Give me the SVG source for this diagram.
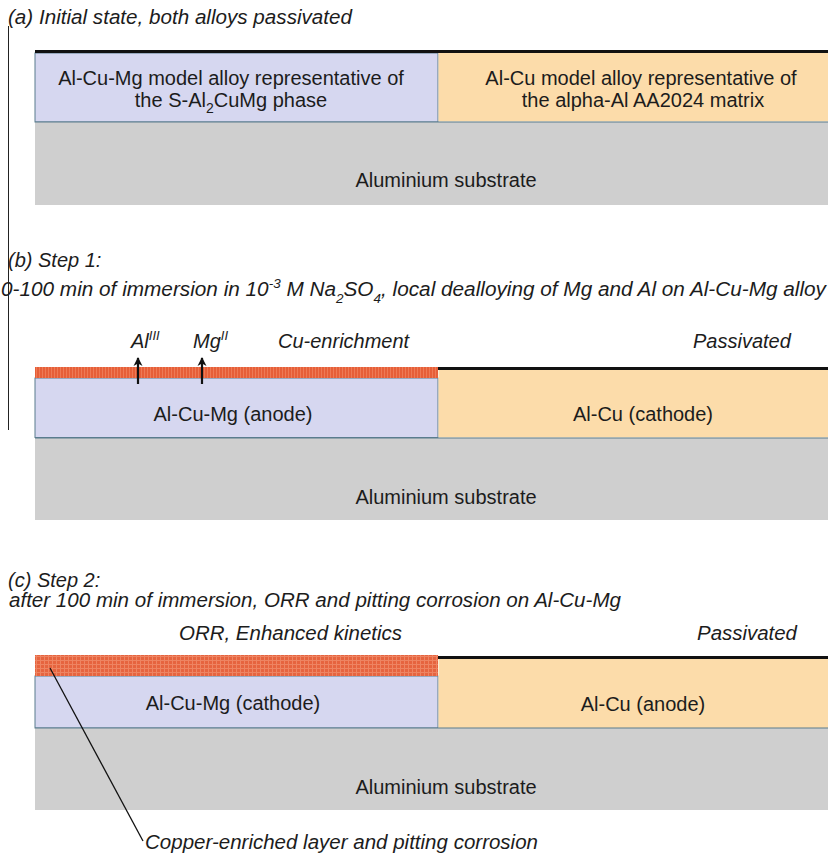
<svg xmlns="http://www.w3.org/2000/svg" width="828" height="854" viewBox="0 0 828 854">
<defs>
<pattern id="stripeB" width="3" height="12" patternUnits="userSpaceOnUse">
<rect width="3" height="12" fill="#e65f38"/>
<rect width="1" height="12" fill="#ee7a55"/>
</pattern>
<pattern id="gridC" width="4" height="4" patternUnits="userSpaceOnUse">
<rect width="4" height="4" fill="#e6643f"/>
<rect width="1" height="4" fill="#ee8462"/>
<rect width="4" height="1" fill="#ee8462"/>
</pattern>
<marker id="arr" markerWidth="12" markerHeight="12" refX="9" refY="6" orient="auto" markerUnits="userSpaceOnUse">
<path d="M1,1.5 L10,6 L1,10.5 L3.5,6 Z" fill="#111"/>
</marker>
</defs>
<style>
text{font-family:"Liberation Sans",Arial,sans-serif;fill:#1c1c1c}
.t{font-size:20px;font-style:italic}
.l{font-size:20px}
.i{font-size:20px;font-style:italic}
.blue{fill:#d6d7f0;stroke:#5a7c8e;stroke-width:1}
.or{fill:#fcdcaa}
.gray{fill:#cfcfcf}
.pass{stroke:#111;stroke-width:3}
.sep{stroke:#5a7c8e;stroke-width:1}
</style>
<rect width="828" height="854" fill="#fff"/>
<line x1="8.5" y1="26" x2="8.5" y2="430" stroke="#222" stroke-width="1"/>

<g id="panel-a">
<text class="t" x="8" y="24" textLength="344" lengthAdjust="spacingAndGlyphs">(a) Initial state, both alloys passivated</text>
<g id="a-alcumg">
<rect class="blue" x="35" y="53" width="403" height="69"/>
<text class="l" x="231" y="85" text-anchor="middle">Al-Cu-Mg model alloy representative of</text>
<text class="l" x="231" y="107" text-anchor="middle">the S-Al<tspan font-size="14" dy="6">2</tspan><tspan dy="-6">CuMg phase</tspan></text>
</g>
<g id="a-alcu">
<rect class="or" x="438.5" y="53" width="389.5" height="68.5"/>
<text class="l" x="641" y="85" text-anchor="middle">Al-Cu model alloy representative of</text>
<text class="l" x="643" y="107" text-anchor="middle">the alpha-Al AA2024 matrix</text>
</g>
<g id="a-sub">
<rect class="gray" x="35" y="122" width="793" height="83"/>
<line class="sep" x1="35" y1="122" x2="828" y2="122"/>
<text class="l" x="446" y="187" text-anchor="middle">Aluminium substrate</text>
</g>
<line class="pass" x1="35" y1="51.5" x2="828" y2="51.5"/>
</g>

<g id="panel-b">
<text class="t" x="8" y="267">(b) Step 1:</text>
<text class="t" x="1" y="296" textLength="825" lengthAdjust="spacingAndGlyphs">0-100 min of immersion in 10<tspan font-size="13" dy="-8">-3</tspan><tspan dy="8"> M Na</tspan><tspan font-size="13" dy="7">2</tspan><tspan dy="-7">SO</tspan><tspan font-size="13" dy="7">4</tspan><tspan dy="-7">, local dealloying of Mg and Al on Al-Cu-Mg alloy</tspan></text>
<g id="b-alcumg">
<rect class="blue" x="35" y="378" width="403" height="59.5"/>
<rect x="35" y="367" width="403" height="11" fill="url(#stripeB)"/>
<text class="l" x="233" y="421" text-anchor="middle">Al-Cu-Mg (anode)</text>
</g>
<g id="b-alcu">
<rect class="or" x="438.5" y="369" width="389.5" height="68.5"/>
<text class="l" x="643" y="421" text-anchor="middle">Al-Cu (cathode)</text>
</g>
<g id="b-sub">
<rect class="gray" x="35" y="438" width="793" height="82"/>
<line class="sep" x1="35" y1="438" x2="828" y2="438"/>
<text class="l" x="446" y="504" text-anchor="middle">Aluminium substrate</text>
</g>
<line class="pass" x1="438" y1="368.5" x2="828" y2="368.5"/>
<text class="i" x="131" y="348">Al<tspan font-size="13" dy="-8">III</tspan></text>
<text class="i" x="193" y="348">Mg<tspan font-size="13" dy="-8">II</tspan></text>
<text class="i" x="278" y="348">Cu-enrichment</text>
<text class="i" x="693" y="348">Passivated</text>
</g>

<g id="panel-c">
<text class="t" x="8" y="587">(c) Step 2:</text>
<text class="t" x="9" y="607" textLength="612" lengthAdjust="spacingAndGlyphs">after 100 min of immersion, ORR and pitting corrosion on Al-Cu-Mg</text>
<g id="c-alcumg">
<rect class="blue" x="35" y="676" width="403" height="52"/>
<rect x="35" y="655" width="403" height="21" fill="url(#gridC)"/>
<text class="l" x="233" y="710" text-anchor="middle">Al-Cu-Mg (cathode)</text>
</g>
<g id="c-alcu">
<rect class="or" x="438.5" y="657" width="389.5" height="71"/>
<text class="l" x="643" y="711" text-anchor="middle">Al-Cu (anode)</text>
</g>
<g id="c-sub">
<rect class="gray" x="35" y="728" width="793" height="82"/>
<line class="sep" x1="35" y1="728" x2="828" y2="728"/>
<text class="l" x="446" y="794" text-anchor="middle">Aluminium substrate</text>
</g>
<line class="pass" x1="438" y1="657.5" x2="828" y2="657.5"/>
<text class="i" x="179" y="640" textLength="223" lengthAdjust="spacingAndGlyphs">ORR, Enhanced kinetics</text>
<text class="i" x="697" y="640" textLength="100" lengthAdjust="spacingAndGlyphs">Passivated</text>
<text class="i" x="145" y="849" textLength="393" lengthAdjust="spacingAndGlyphs">Copper-enriched layer and pitting corrosion</text>
</g>

<g id="connectors">
<line x1="138" y1="384" x2="138" y2="358" stroke="#111" stroke-width="2.2" marker-end="url(#arr)"/>
<line x1="202" y1="384" x2="202" y2="358" stroke="#111" stroke-width="2.2" marker-end="url(#arr)"/>
<line x1="50" y1="668" x2="143" y2="841" stroke="#111" stroke-width="1.3"/>
</g>
</svg>
